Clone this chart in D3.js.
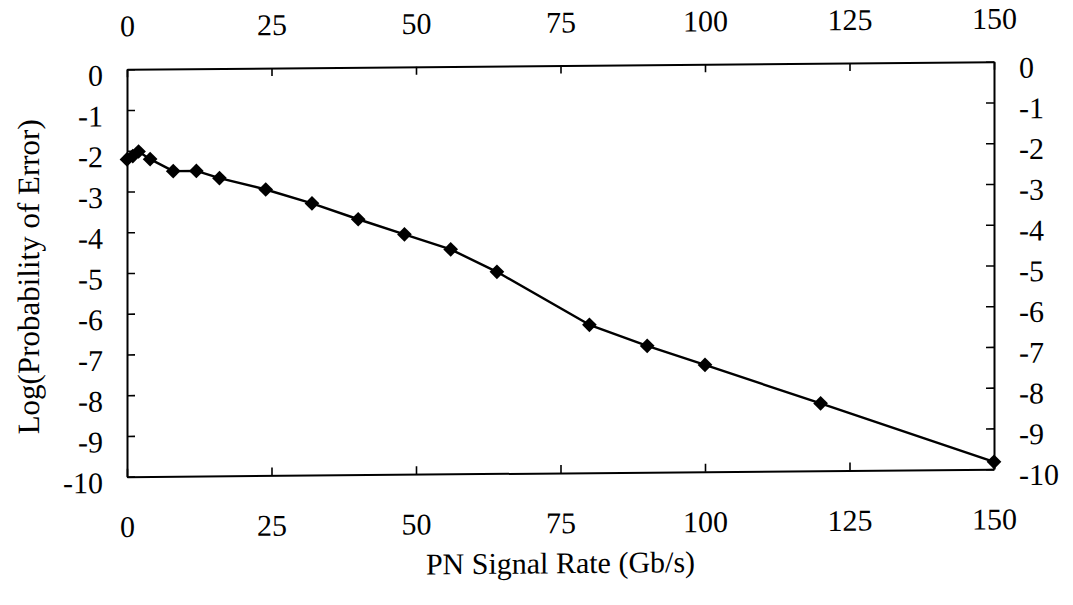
<!DOCTYPE html>
<html>
<head>
<meta charset="utf-8">
<script src="https://cdn.jsdelivr.net/npm/d3@7"></script>
<style>
  html, body { margin: 0; padding: 0; background: #fff; }
  svg { display: block; }
</style>
</head>
<body>
<svg id="chart" width="1073" height="605"></svg>
<script>
// PN signal rate (Gb/s) and measured log10 of the error probability
const signalRate = [0, 1, 2, 4, 8, 12, 16, 24, 32, 40, 48, 56, 64, 80, 90, 100, 120, 150];
const logProbError = [-2.21, -2.13, -2.02, -2.21, -2.51, -2.51, -2.69, -2.98, -3.33, -3.73,
                      -4.11, -4.49, -5.05, -6.37, -6.90, -7.38, -8.35, -9.82];

// Axis ticks
const rateTicks = [0, 25, 50, 75, 100, 125, 150];
const logTicks = [0, -1, -2, -3, -4, -5, -6, -7, -8, -9, -10];

const W = 1073, H = 605;
const box = { left: 127, right: 994, top: 69.3, bottom: 476.7 };
const FONT = "'Liberation Serif', 'Times New Roman', serif";

const svg = d3.select("#chart");
svg.append("rect").attr("width", W).attr("height", H).attr("fill", "#fff");

// The whole figure sits on a very slight slant
const slant = -0.5;
const root = svg.append("g")
  .attr("transform", `translate(0,${(box.left * Math.tan(-slant * Math.PI / 180)).toFixed(2)}) skewY(${slant})`);

const x = d3.scaleLinear().domain([0, 150]).range([box.left, box.right]);
const y = d3.scaleLinear().domain([-10, 0]).range([box.bottom, box.top]);

function styleAxis(sel) {
  sel.attr("font-family", FONT).attr("font-size", 30);
  sel.select(".domain").attr("stroke", "#000").attr("stroke-width", 2);
  sel.selectAll(".tick line").attr("stroke", "#000").attr("stroke-width", 1.6);
  sel.selectAll(".tick text").attr("fill", "#000");
}

// Bottom and top axes, ticks pointing into the frame
root.append("g")
  .attr("transform", `translate(0,${box.bottom})`)
  .call(d3.axisBottom(x).tickValues(rateTicks).tickFormat(d3.format("d"))
    .tickSizeInner(-8).tickSizeOuter(0).tickPadding(39))
  .call(styleAxis);

root.append("g")
  .attr("transform", `translate(0,${box.top})`)
  .call(d3.axisTop(x).tickValues(rateTicks).tickFormat(d3.format("d"))
    .tickSizeInner(-8).tickSizeOuter(0).tickPadding(33))
  .call(styleAxis);

// Left and right axes
const yFmt = d => d3.format("d")(d).replace("\u2212", "-");
root.append("g")
  .attr("transform", `translate(${box.left},0)`)
  .call(d3.axisLeft(y).tickValues(logTicks).tickFormat(yFmt)
    .tickSizeInner(-8).tickSizeOuter(0).tickPadding(24))
  .call(styleAxis)
  .call(g => g.selectAll(".tick text").attr("dy", "0.52em"));

root.append("g")
  .attr("transform", `translate(${box.right},0)`)
  .call(d3.axisRight(y).tickValues(logTicks).tickFormat(yFmt)
    .tickSizeInner(-8).tickSizeOuter(0).tickPadding(25))
  .call(styleAxis)
  .call(g => g.selectAll(".tick text").attr("dy", "0.52em"));

// Data line
const pts = signalRate.map((r, i) => [r, logProbError[i]]);
root.append("path")
  .datum(pts)
  .attr("fill", "none")
  .attr("stroke", "#000")
  .attr("stroke-width", 2.4)
  .attr("stroke-linejoin", "round")
  .attr("d", d3.line().x(d => x(d[0])).y(d => y(d[1])));

// Diamond markers
root.append("g")
  .selectAll("path")
  .data(pts)
  .join("path")
  .attr("d", d3.symbol(d3.symbolSquare, 108)())
  .attr("transform", d => `translate(${x(d[0])},${y(d[1])}) rotate(45)`)
  .attr("fill", "#000");

// Axis titles
root.append("text")
  .attr("x", (box.left + box.right) / 2)
  .attr("y", 577)
  .attr("text-anchor", "middle")
  .attr("font-family", FONT)
  .attr("font-size", 30)
  .attr("fill", "#000")
  .text("PN Signal Rate (Gb/s)");

root.append("text")
  .attr("transform", `translate(39,${(box.top + box.bottom) / 2 + 3}) rotate(-90)`)
  .attr("text-anchor", "middle")
  .attr("font-family", FONT)
  .attr("font-size", 31)
  .attr("fill", "#000")
  .text("Log(Probability of Error)");
</script>
</body>
</html>
